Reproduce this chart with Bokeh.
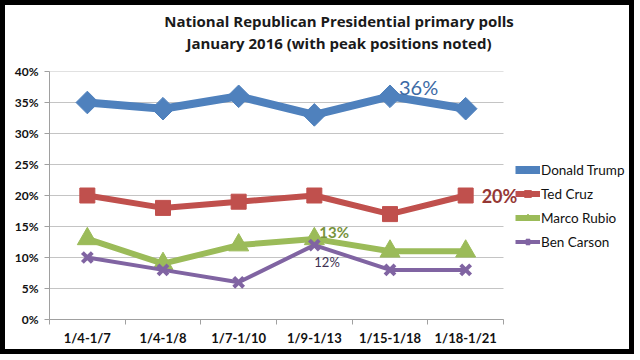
import math
from bokeh.plotting import figure
from bokeh.models import Label, Legend, LegendItem, FixedTicker, PrintfTickFormatter, Range1d, Title
from bokeh.layouts import column
from bokeh.embed import file_html
from bokeh.resources import INLINE

title_lines = ["National Republican Presidential primary polls",
               "January 2016 (with peak positions noted)"]
categories = ["1/4-1/7", "1/4-1/8", "1/7-1/10", "1/9-1/13", "1/15-1/18", "1/18-1/21"]
trump = [35, 34, 36, 33, 36, 34]
cruz = [20, 18, 19, 20, 17, 20]
rubio = [13, 9, 12, 13, 11, 11]
carson = [10, 8, 6, 12, 8, 8]
y_ticks = [0, 5, 10, 15, 20, 25, 30, 35, 40]

n = len(categories)
xs = [i + 0.5 for i in range(n)]

FONT = "Lato"
PLOT_W = 454      # pixel width of the category area
FRAME_W = 579     # frame also hosts the legend on its right

p = figure(width=624, height=344, frame_width=FRAME_W, frame_height=248,
           output_backend="svg", toolbar_location=None,
           x_range=Range1d(0, n * FRAME_W / PLOT_W), y_range=Range1d(0, 40),
           min_border_left=44, min_border_right=1, min_border_top=66, min_border_bottom=30)

def style_title(t, standoff):
    t.align = "center"
    t.text_font = "Open Sans"
    t.text_font_size = "15px"
    t.text_font_style = "bold"
    t.text_color = "#1a1a1a"
    t.offset = -17
    t.standoff = standoff

# spacer between frame and the two title lines
spacer = Title(text=" ", text_font_size="1px", standoff=16)
p.add_layout(spacer, "above")
t2 = Title(text=title_lines[1])
style_title(t2, 0)
p.add_layout(t2, "above")
p.title.text = title_lines[0]
style_title(p.title, 0)
p.outline_line_color = None

p.xgrid.visible = False
p.ygrid.visible = False
# horizontal gridlines limited to the category area
p.segment(x0=[0] * len(y_ticks), x1=[n] * len(y_ticks), y0=y_ticks, y1=y_ticks,
          line_color="#c4c4c4", line_width=1)

p.yaxis.ticker = FixedTicker(ticks=y_ticks)
p.yaxis.formatter = PrintfTickFormatter(format="%d%%")
p.yaxis.axis_line_color = "#a0a0a0"
p.yaxis.major_tick_line_color = "#a0a0a0"
p.yaxis.major_tick_out = 5
p.yaxis.major_tick_in = 0
p.yaxis.minor_tick_line_color = None
p.yaxis.major_label_text_font = FONT
p.yaxis.major_label_text_font_size = "12px"
p.yaxis.major_label_text_font_style = "bold"
p.yaxis.major_label_text_color = "#111111"
p.yaxis.major_label_standoff = 6

p.xaxis.bounds = (0, n)
p.xaxis.ticker = FixedTicker(ticks=xs, minor_ticks=list(range(n + 1)))
p.xaxis.major_label_overrides = {x: c for x, c in zip(xs, categories)}
p.xaxis.axis_line_color = "#a0a0a0"
p.xaxis.major_tick_line_color = None
p.xaxis.minor_tick_line_color = "#a0a0a0"
p.xaxis.minor_tick_out = 5
p.xaxis.minor_tick_in = 0
p.xaxis.major_label_text_font = FONT
p.xaxis.major_label_text_font_size = "13px"
p.xaxis.major_label_text_font_style = "bold"
p.xaxis.major_label_text_color = "#111111"
p.xaxis.major_label_standoff = 4

BLUE, RED, GREEN, PURPLE = "#4f81bd", "#c0504d", "#9bbb59", "#8064a2"

l1 = p.line(xs, trump, line_color=BLUE, line_width=8)
m1 = p.scatter(xs, trump, marker="square", angle=math.pi / 4, size=16,
               fill_color=BLUE, line_color=BLUE)
l2 = p.line(xs, cruz, line_color=RED, line_width=6)
m2 = p.scatter(xs, cruz, marker="square", size=15, fill_color=RED, line_color=RED)
l3 = p.line(xs, rubio, line_color=GREEN, line_width=6)
m3 = p.scatter(xs, rubio, marker="triangle", size=20, fill_color=GREEN, line_color=GREEN)
l4 = p.line(xs, carson, line_color=PURPLE, line_width=4)
m4 = p.scatter(xs, carson, marker="x", size=14, line_color=PURPLE, line_width=4)

legend = Legend(items=[LegendItem(label="Donald Trump", renderers=[l1, m1]),
                       LegendItem(label="Ted Cruz", renderers=[l2, m2]),
                       LegendItem(label="Marco Rubio", renderers=[l3, m3]),
                       LegendItem(label="Ben Carson", renderers=[l4, m4])],
                location=(466, 69), border_line_color=None, background_fill_alpha=0,
                label_text_font=FONT, label_text_font_size="13.5px", label_text_color="#111111",
                glyph_width=25, glyph_height=17, label_height=17, spacing=7, label_standoff=1,
                padding=0, margin=0)
p.add_layout(legend)

i_t = trump.index(max(trump), 4)
p.add_layout(Label(x=xs[i_t], y=trump[i_t], text=f"{max(trump)}%", x_offset=9, y_offset=9,
                   text_baseline="middle", text_font=FONT, text_font_size="20px",
                   text_color="#3c6aa5"))
p.add_layout(Label(x=xs[5], y=cruz[5], text=f"{max(cruz)}%", x_offset=16,
                   text_baseline="middle", text_font=FONT, text_font_size="18px",
                   text_font_style="bold", text_color="#953735"))
p.add_layout(Label(x=xs[3], y=rubio[3], text=f"{max(rubio)}%", x_offset=5, y_offset=7,
                   text_baseline="middle", text_font=FONT, text_font_size="15px",
                   text_font_style="bold", text_color="#77933c"))
p.add_layout(Label(x=xs[3], y=carson[3], text=f"{max(carson)}%", x_offset=0, y_offset=-17,
                   text_baseline="middle", text_font=FONT, text_font_size="13px",
                   text_color="#403152"))

layout = column(p, styles={"border": "5px solid black"})
open("out.html", "w").write(file_html(layout, INLINE))
